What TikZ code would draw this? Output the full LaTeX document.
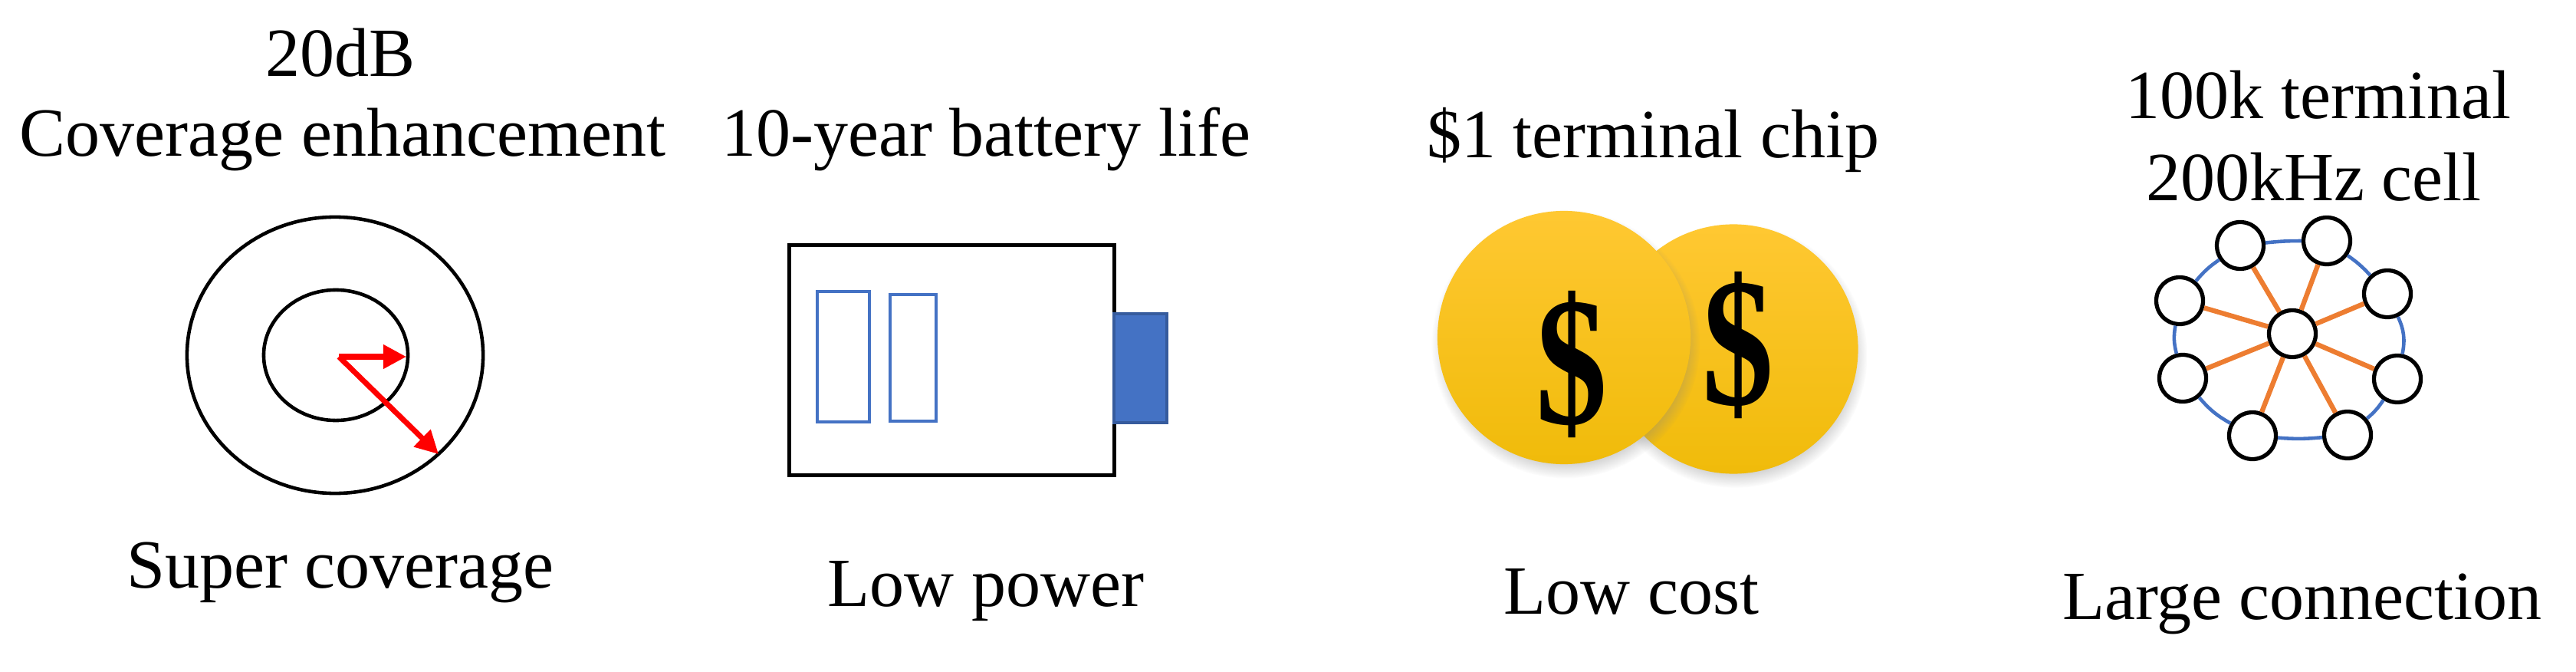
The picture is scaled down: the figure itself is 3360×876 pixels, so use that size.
\documentclass[tikz,border=0pt]{standalone}
\usepackage{fontspec}
\setmainfont{Liberation Serif}
\usetikzlibrary{arrows.meta,shapes.geometric,shadows}
\definecolor{cellblue}{HTML}{4472C4}
\definecolor{linkorange}{HTML}{ED7D31}
\definecolor{coinmid}{HTML}{FFC600}
\definecolor{cointop}{HTML}{FFC832}
\definecolor{coinbot}{HTML}{F0BB0A}
\tikzset{
  label text/.style={font=\fontsize{25.6}{30}\selectfont, inner sep=0pt},
  ring/.style={draw, ellipse, line width=1.3pt, inner sep=0pt},
  range arrow/.style={draw=red, line width=2pt, -{Triangle[length=0.3cm,width=0.3cm]}},
  cell box/.style={draw=cellblue, line width=1.2pt, rectangle, inner sep=0pt, anchor=north west},
  coin/.style={circle, minimum size=3.3cm, inner sep=0pt, top color=cointop, middle color=coinmid, bottom color=coinbot, circular drop shadow={shadow scale=1.06, shadow xshift=0.02cm, shadow yshift=-0.08cm, opacity=0.45}},
  coin sign/.style={font=\fontsize{68}{68}\selectfont\bfseries, inner sep=0pt, xscale=0.78},
  ue/.style={draw, circle, line width=1.5pt, minimum size=0.61cm, inner sep=0pt, fill=white},
  cell link/.style={draw=cellblue, line width=1.3pt},
  ue link/.style={draw=linkorange, line width=1.8pt}
}
\begin{document}
\begin{tikzpicture}[x=0.01cm, y=-0.01cm]
\useasboundingbox (0,0) rectangle (3360,876);

% coverage
\node[label text] (gain) at (444,69) {20dB};
\node[label text] (enh) at (447,182) {Coverage enhancement};
\node[ring, minimum width=3.86cm, minimum height=3.6cm] (outer) at (437,463) {};
\node[ring, minimum width=1.88cm, minimum height=1.7cm] (inner) at (438,463) {};
\coordinate (origin) at (442,465);
\coordinate (tipinner) at (530,465);
\coordinate (tipouter) at (572,592);
\draw[range arrow] (origin) -- (tipinner);
\draw[range arrow] (origin) -- (tipouter);
\node[label text] (cover) at (444,746) {Super coverage};

% battery
\node[label text] (life) at (1286,182) {10-year battery life};
\node[draw, line width=1.3pt, rectangle, inner sep=0pt, minimum width=4.24cm, minimum height=3cm, anchor=north west] (body) at (1027,317) {};
\node[cell box, minimum width=0.68cm, minimum height=1.7cm] (cella) at (1064,378) {};
\node[cell box, minimum width=0.6cm, minimum height=1.65cm] (cellb) at (1159,382) {};
\node[draw=cellblue!80!black, fill=cellblue, line width=1pt, rectangle, inner sep=0pt, minimum width=0.69cm, minimum height=1.42cm, anchor=north west] (term) at (1451,407) {};
\node[label text] (power) at (1286,771) {Low power};

% cost
\node[label text] (chip) at (2156,182) {\$1 terminal chip};
\node[coin, minimum size=3.25cm] (coinb) at (2261,455) {};
\node[coin sign] (signb) at (2267,450) {\$};
\node[coin] (coina) at (2040,440) {};
\node[coin sign] (signa) at (2050,475) {\$};
\node[label text] (cost) at (2128,771) {Low cost};

% connection
\node[label text] (ues) at (3024,124) {100k terminal};
\node[label text] (cell) at (3018,231) {200kHz cell};
\node[ue] (hub) at (2990,435) {};
\foreach \name/\px/\py in {a/2922/320, b/3035/314, c/3114/383, d/3127/494, e/3062/567, f/2938/568, g/2847/493, h/2843/392} {
  \node[ue] (\name) at (\px,\py) {};
  \draw[ue link] (hub) -- (\name);
}
\foreach \from/\to/\bend in {a/b/3, b/c/6, c/d/18, d/e/8, e/f/5, f/g/10, g/h/12, h/a/8}
  \draw[cell link] (\from) to[bend left=\bend] (\to);
\node[label text] (conn) at (3003,787) {Large connection};
\end{tikzpicture}
\end{document}
